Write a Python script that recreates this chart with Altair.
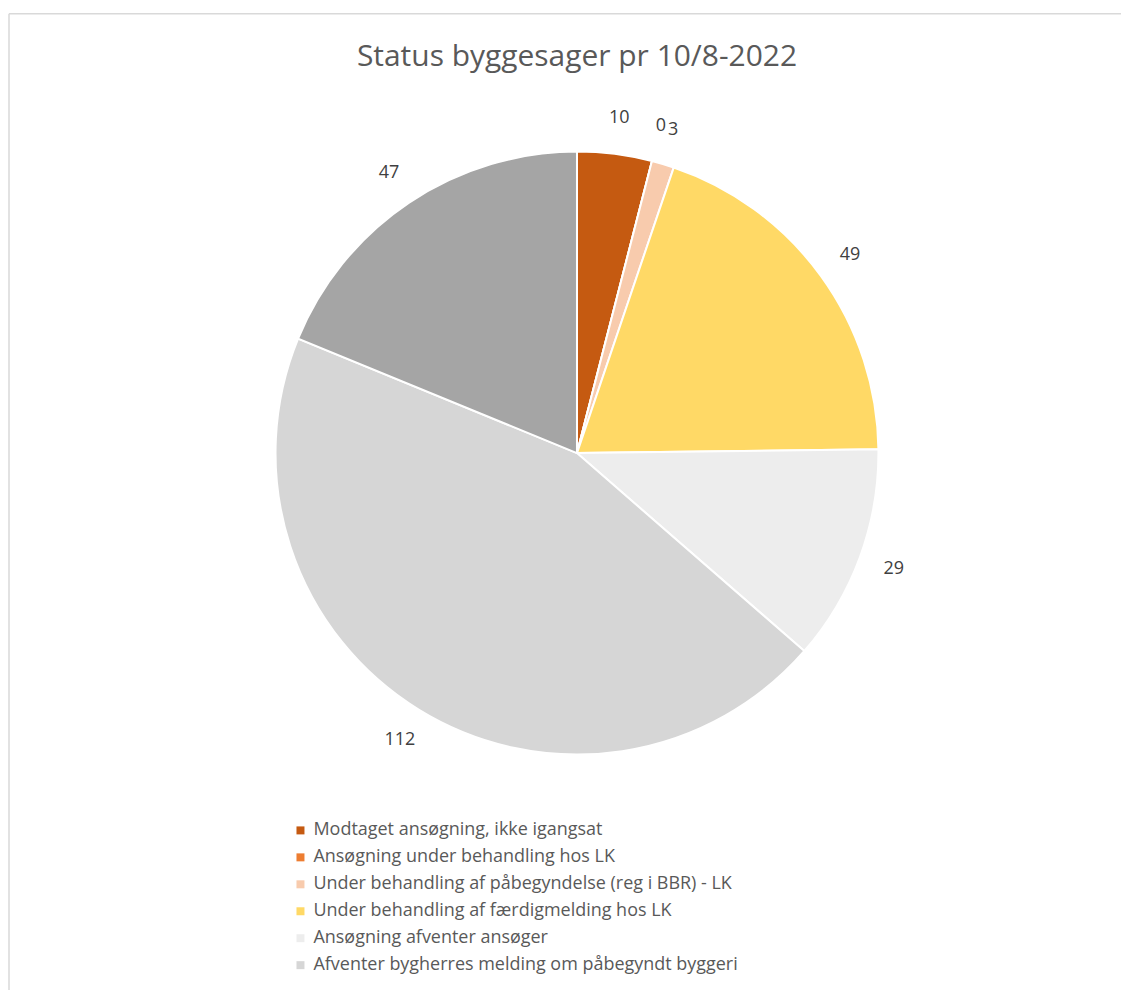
import altair as alt
import pandas as pd

categories = [
    "Modtaget ansøgning, ikke igangsat",
    "Ansøgning under behandling hos LK",
    "Under behandling af påbegyndelse (reg i BBR) - LK",
    "Under behandling af færdigmelding hos LK",
    "Ansøgning afventer ansøger",
    "Afventer bygherres melding om påbegyndt byggeri",
    "Afventer færdigmelding fra bygherre",
]
values = [10, 0, 3, 49, 29, 112, 47]
colors = ["#C55A11", "#ED7D31", "#F8CBAD", "#FFD966", "#EDEDED", "#D6D6D6", "#A5A5A5"]
legend_shown = categories[:6]
title_text = "Status byggesager pr 10/8-2022"

df = pd.DataFrame({"kategori": categories, "antal": values, "orden": list(range(len(values)))})

W, H = 1114, 983
CX, CY = 569, 445
R = 302

color = alt.Color(
    "kategori:N",
    scale=alt.Scale(domain=categories, range=colors),
    sort=categories,
    legend=alt.Legend(
        values=legend_shown,
        title=None,
        orient="none",
        legendX=283,
        legendY=814,
        symbolType="square",
        symbolSize=64,
        symbolStrokeWidth=0,
        labelFont="Open Sans",
        labelFontSize=18,
        labelColor="#595959",
        rowPadding=9,
        labelLimit=700,
    ),
)

base = alt.Chart(df).encode(
    theta=alt.Theta("antal:Q", stack=True),
    order=alt.Order("orden:Q"),
    x=alt.value(CX),
    y=alt.value(CY),
)

arcs = base.mark_arc(outerRadius=R, stroke="white", strokeWidth=2).encode(color=color)

labels = base.mark_text(
    radius=338, font="Open Sans", fontSize=18, color="#404040"
).encode(text="antal:Q")

title = alt.Chart(pd.DataFrame({"t": [title_text]})).mark_text(
    font="Open Sans", fontSize=30, color="#595959", baseline="middle", align="center"
).encode(text="t:N", x=alt.value(CX), y=alt.value(48))

frame_top = alt.Chart(pd.DataFrame({"a": [0]})).mark_rule(
    stroke="#D9D9D9", strokeWidth=1.5
).encode(x=alt.value(0), x2=alt.value(W), y=alt.value(5))

frame_left = alt.Chart(pd.DataFrame({"a": [0]})).mark_rule(
    stroke="#D9D9D9", strokeWidth=1.5
).encode(x=alt.value(0), y=alt.value(5), y2=alt.value(H))

chart = alt.layer(frame_top, frame_left, arcs, labels, title).properties(
    width=W, height=H, padding=0
).configure(background="white").configure_view(stroke=None)

chart.save("out.html", embed_options={"renderer": "svg", "actions": False})
